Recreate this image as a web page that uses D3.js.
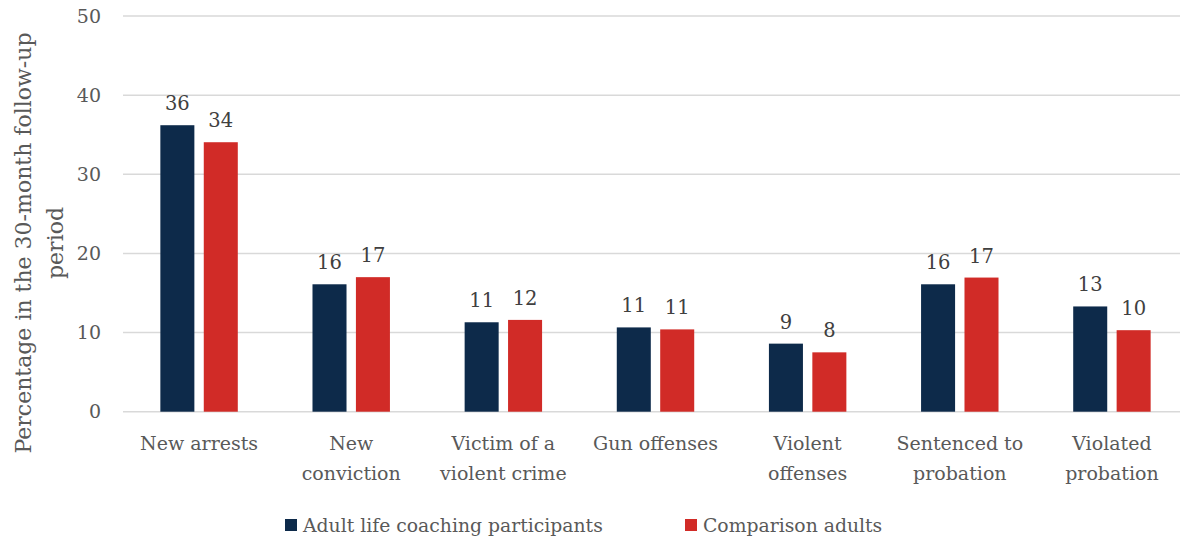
<!DOCTYPE html>
<html><head><meta charset="utf-8">
<script src="https://cdn.jsdelivr.net/npm/d3@7"></script>
<style>
body{margin:0;background:#fff;}
svg{display:block;font-family:"DejaVu Serif",serif;}
</style></head>
<body><svg id="c" width="1180" height="537"></svg>
<script>
const categories = [["New arrests"],["New","conviction"],["Victim of a","violent crime"],["Gun offenses"],["Violent","offenses"],["Sentenced to","probation"],["Violated","probation"]];
const seriesNames = ["Adult life coaching participants","Comparison adults"];
const participants = [36.2, 16.1, 11.3, 10.65, 8.6, 16.1, 13.3];
const comparison = [34.05, 17.0, 11.6, 10.4, 7.5, 16.95, 10.3];
const labelsP = ["36","16","11","11","9","16","13"];
const labelsC = ["34","17","12","11","8","17","10"];
const yTicks = [0,10,20,30,40,50];
const colors = ["#0d2a4a","#d12b27"];

const svg = d3.select("#c");
const mLeft = 123, mRight = 1188, mTop = 16, mBottom = 411.7;
const x0 = d3.scaleBand().domain(d3.range(categories.length)).range([mLeft,mRight]).paddingInner(0.491).paddingOuter(0.2455);
const x1 = d3.scaleBand().domain([0,1]).range([0,x0.bandwidth()]).paddingInner(0.2166).paddingOuter(0);
const y = d3.scaleLinear().domain([0,50]).range([mBottom,mTop]);

// gridlines
svg.append("g").selectAll("line").data(yTicks).join("line")
  .attr("x1",mLeft).attr("x2",mRight).attr("y1",d=>y(d)).attr("y2",d=>y(d))
  .attr("stroke","#d9d9d9").attr("stroke-width",1.5);
// y tick labels
svg.append("g").selectAll("text").data(yTicks).join("text")
  .attr("x",101).attr("y",d=>y(d)).attr("dy","0.35em").attr("text-anchor","end")
  .attr("fill","#595959").attr("font-size",19).text(d=>d);

const data = categories.map((c,i)=>({i, vals:[participants[i],comparison[i]], labs:[labelsP[i],labelsC[i]]}));
const g = svg.append("g").selectAll("g").data(data).join("g").attr("transform",d=>`translate(${x0(d.i)},0)`);
g.selectAll("rect").data(d=>d.vals.map((v,s)=>({v,s}))).join("rect")
  .attr("x",d=>x1(d.s)).attr("width",x1.bandwidth())
  .attr("y",d=>y(d.v)).attr("height",d=>y(0)-y(d.v)).attr("fill",d=>colors[d.s]);
g.selectAll("text").data(d=>d.vals.map((v,s)=>({v,s,l:d.labs[s]}))).join("text")
  .attr("x",d=>x1(d.s)+x1.bandwidth()/2).attr("y",d=>y(d.v)-15)
  .attr("text-anchor","middle").attr("fill","#404040").attr("font-size",19.5).text(d=>d.l);

// category labels
const cl = svg.append("g").selectAll("text").data(categories.map((c,i)=>({c,i}))).join("text")
  .attr("x",d=>x0(d.i)+x0.bandwidth()/2).attr("y",450)
  .attr("text-anchor","middle").attr("fill","#595959").attr("font-size",19);
cl.selectAll("tspan").data(d=>d.c.map((t,k)=>({t,k,x:x0(d.i)+x0.bandwidth()/2}))).join("tspan")
  .attr("x",d=>d.x).attr("dy",d=>d.k?30:0).text(d=>d.t);

// y axis title
const yt = svg.append("text").attr("transform","translate(0,243) rotate(-90)")
  .attr("text-anchor","middle").attr("fill","#595959").attr("font-size",22);
yt.append("tspan").attr("x",0).attr("y",31).text("Percentage in the 30-month follow-up");
yt.append("tspan").attr("x",0).attr("y",63).text("period");

// legend
const legX = [285, 685];
const lg = svg.append("g").selectAll("g").data(seriesNames.map((n,i)=>({n,i}))).join("g")
  .attr("transform",d=>`translate(${legX[d.i]},519)`);
lg.append("rect").attr("width",12).attr("height",12).attr("fill",d=>colors[d.i]);
lg.append("text").attr("x",18).attr("y",6).attr("dy","0.35em").attr("fill","#595959").attr("font-size",18.8).text(d=>d.n);
</script></body></html>
